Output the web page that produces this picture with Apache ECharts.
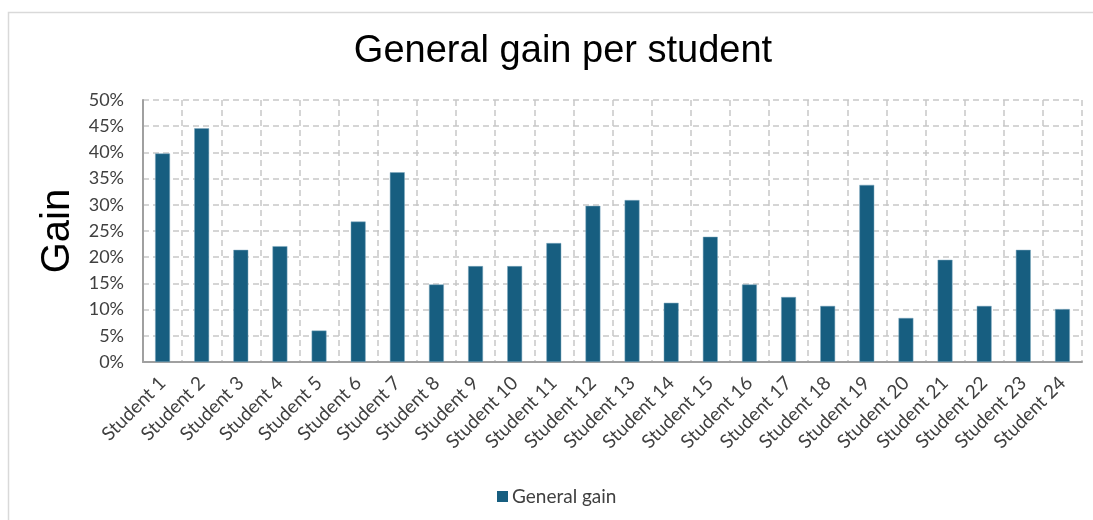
<!DOCTYPE html>
<html>
<head>
<meta charset="utf-8">
<script src="https://cdn.jsdelivr.net/npm/echarts@6/dist/echarts.min.js"></script>
<style>
  html, body { margin: 0; padding: 0; background: #fff; }
  #chart { width: 1093px; height: 520px; }
</style>
</head>
<body>
<div id="chart"></div>
<script>
  // data
  const students = [];
  for (let i = 1; i <= 24; i++) students.push('Student ' + i);
  const gain = [39.8, 44.6, 21.4, 22.1, 6.0, 26.8, 36.2, 14.8, 18.3, 18.3, 22.7, 29.8,
                30.9, 11.3, 23.9, 14.8, 12.4, 10.7, 33.8, 8.4, 19.5, 10.7, 21.4, 10.1];
  const yTicks = [0, 5, 10, 15, 20, 25, 30, 35, 40, 45, 50];

  const myChart = echarts.init(document.getElementById('chart'));
  const gridLine = { color: '#c8c8c8', type: [6, 4], width: 1.5 };

  let option = {
    animation: false,
    graphic: [{
      type: 'rect',
      shape: { x: 8.5, y: 12.5, width: 1100, height: 520 },
      style: { fill: 'none', stroke: '#d9d9d9', lineWidth: 1.5 }
    }],
    title: {
      text: 'General gain per student',
      left: 558,
      textAlign: 'center',
      top: 28,
      textStyle: { fontFamily: 'Liberation Sans', fontSize: 38, fontWeight: 'normal', color: '#000' }
    },
    legend: {
      data: ['General gain'],
      top: 487,
      left: 497,
      padding: 0,
      itemWidth: 11,
      itemHeight: 11,
      itemGap: 6,
      icon: 'rect',
      itemStyle: { borderWidth: 0 },
      textStyle: { fontFamily: 'Lato', fontSize: 19, color: '#404040', padding: [0, 0, 0, -1] }
    },
    grid: { left: 143, right: 11, top: 100, bottom: 158 },
    xAxis: {
      type: 'category',
      data: students,
      axisLine: { lineStyle: { color: '#a0a0a0', width: 2 } },
      axisTick: { show: false },
      splitLine: { show: true, interval: 0, lineStyle: gridLine },
      axisLabel: {
        interval: 0,
        rotate: 45,
        margin: 18,
        fontFamily: 'Lato',
        fontSize: 19,
        color: '#404040'
      }
    },
    yAxis: {
      type: 'value',
      name: 'Gain',
      nameLocation: 'middle',
      nameGap: 64,
      nameRotate: 90,
      nameTextStyle: { fontFamily: 'Liberation Sans', fontSize: 40, color: '#000' },
      min: yTicks[0],
      max: yTicks[yTicks.length - 1],
      interval: 5,
      axisLine: { show: true, lineStyle: { color: '#a0a0a0', width: 2 } },
      axisTick: { show: false },
      splitLine: { show: true, lineStyle: gridLine },
      axisLabel: {
        formatter: v => v + '%',
        fontFamily: 'Lato',
        fontSize: 18,
        color: '#404040',
        margin: 19
      }
    },
    series: [{
      name: 'General gain',
      type: 'bar',
      data: gain,
      barWidth: '38%',
      itemStyle: { color: '#175e80', borderColor: '#7fa9bf', borderWidth: 0.5 }
    }]
  };

  myChart.setOption(option);
  window.addEventListener('resize', function () {
    myChart.resize();
  });
</script>
</body>
</html>
